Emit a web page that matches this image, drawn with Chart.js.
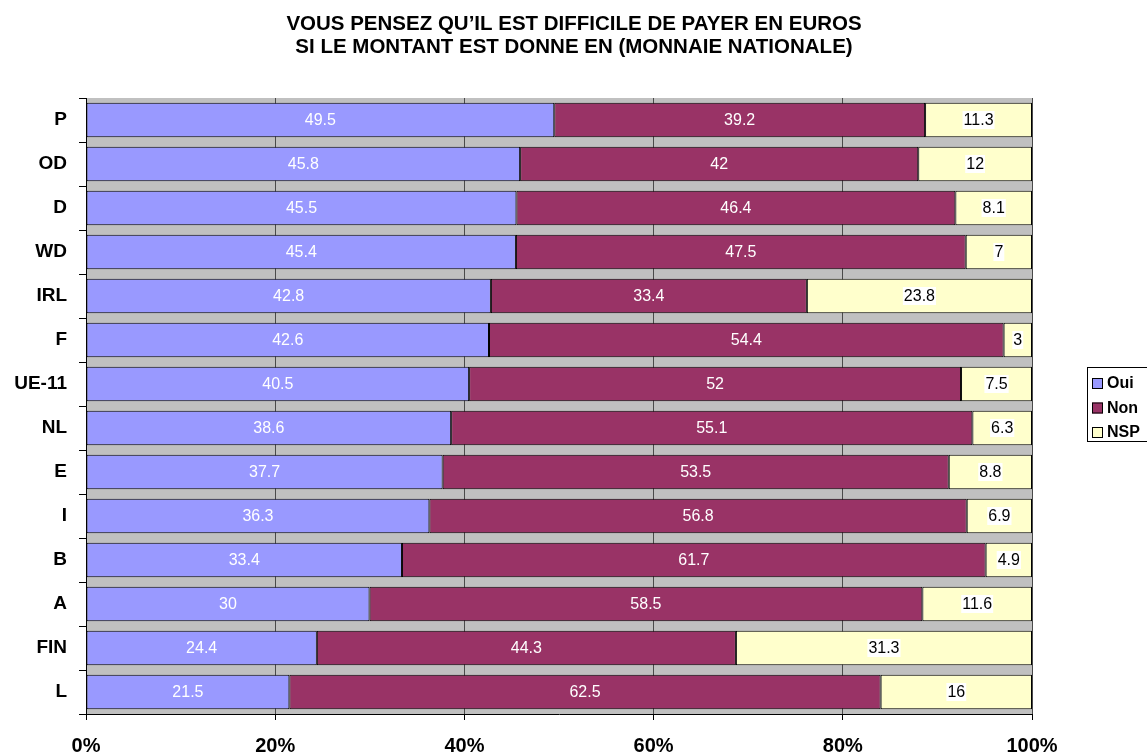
<!DOCTYPE html>
<html>
<head>
<meta charset="utf-8">
<script src="https://cdn.jsdelivr.net/npm/chart.js@4/dist/chart.umd.min.js"></script>
<style>
  html, body { margin: 0; padding: 0; background: #fff; }
  #wrap { width: 1147px; height: 756px; }
</style>
</head>
<body>
<div id="wrap"><canvas id="chart" width="1147" height="756"></canvas></div>
<script>
// --- Data ---
const categories = ['P', 'OD', 'D', 'WD', 'IRL', 'F', 'UE-11', 'NL', 'E', 'I', 'B', 'A', 'FIN', 'L'];
const oui = [49.5, 45.8, 45.5, 45.4, 42.8, 42.6, 40.5, 38.6, 37.7, 36.3, 33.4, 30, 24.4, 21.5];
const non = [39.2, 42, 46.4, 47.5, 33.4, 54.4, 52, 55.1, 53.5, 56.8, 61.7, 58.5, 44.3, 62.5];
const nsp = [11.3, 12, 8.1, 7, 23.8, 3, 7.5, 6.3, 8.8, 6.9, 4.9, 11.6, 31.3, 16];
const seriesNames = ['Oui', 'Non', 'NSP'];
const xTicks = [0, 20, 40, 60, 80, 100];
const titleLines = [
  'VOUS PENSEZ QU\u2019IL EST DIFFICILE DE PAYER EN EUROS',
  'SI LE MONTANT EST DONNE EN (MONNAIE NATIONALE)'
];

const FONT = "'Liberation Sans', Arial, sans-serif";
const COLORS = ['#9999FF', '#993366', '#FFFFCC'];
const LABEL_COLORS = ['#fff', '#fff', '#000'];

// 100% stacked: share of each row total (raw values kept for labels)
const raw = [oui, non, nsp];
const totals = categories.map((_, i) => oui[i] + non[i] + nsp[i]);
const share = raw.map(s => s.map((v, i) => v / totals[i] * 100));

// gray plot area like the Excel original
const plotBg = {
  id: 'plotBg',
  beforeDraw(chart) {
    const { ctx, chartArea: a } = chart;
    ctx.save();
    ctx.fillStyle = '#C0C0C0';
    ctx.fillRect(a.left, a.top, a.right - a.left, a.bottom - a.top);
    ctx.restore();
  }
};

// title centred on the whole page (the built-in one would follow the right padding)
const pageTitle = {
  id: 'pageTitle',
  afterDraw(chart) {
    const ctx = chart.ctx;
    ctx.save();
    ctx.font = 'bold 20.5px ' + FONT;
    ctx.fillStyle = '#000';
    ctx.textAlign = 'center';
    ctx.textBaseline = 'alphabetic';
    titleLines.forEach((line, i) => ctx.fillText(line, 574, 30 + i * 23));
    ctx.restore();
  }
};

// value labels in the middle of every segment
const segLabels = {
  id: 'segLabels',
  afterDatasetsDraw(chart) {
    const ctx = chart.ctx;
    ctx.save();
    ctx.font = '16px ' + FONT;
    ctx.textAlign = 'center';
    ctx.textBaseline = 'middle';
    chart.data.datasets.forEach((ds, di) => {
      chart.getDatasetMeta(di).data.forEach((el, i) => {
        const { x, y, base } = el.getProps(['x', 'y', 'base'], true);
        const cx = (x + base) / 2;
        const txt = String(raw[di][i]);
        if (di === 2) {
          const w = ctx.measureText(txt).width;
          ctx.fillStyle = '#fff';
          ctx.fillRect(cx - w / 2 - 1, y - 9, w + 2, 18);
        }
        ctx.fillStyle = LABEL_COLORS[di];
        ctx.fillText(txt, cx, y + 1);
      });
    });
    ctx.restore();
  }
};

// boxed legend on the right, cut by the canvas edge like the original
const boxLegend = {
  id: 'boxLegend',
  afterDraw(chart) {
    const ctx = chart.ctx;
    const x0 = 1087, y0 = 367;
    ctx.save();
    ctx.fillStyle = '#fff';
    ctx.fillRect(x0, y0, 80, 74);
    ctx.strokeStyle = '#000';
    ctx.lineWidth = 1;
    ctx.strokeRect(x0 + 0.5, y0 + 0.5, 80, 74);
    ctx.font = 'bold 16px ' + FONT;
    ctx.textBaseline = 'middle';
    chart.data.datasets.forEach((ds, i) => {
      const cy = y0 + 16 + i * 24.5;
      ctx.fillStyle = ds.backgroundColor;
      ctx.fillRect(x0 + 5, cy - 5, 11, 11);
      ctx.strokeRect(x0 + 5.5, cy - 4.5, 10, 10);
      ctx.fillStyle = '#000';
      ctx.fillText(ds.label, x0 + 20, cy + 1);
    });
    ctx.restore();
  }
};

new Chart(document.getElementById('chart'), {
  type: 'bar',
  data: {
    labels: categories,
    datasets: seriesNames.map((name, i) => ({
      label: name,
      data: share[i],
      backgroundColor: COLORS[i],
      borderColor: '#000',
      borderWidth: 1,
      borderSkipped: false,
      barPercentage: 0.78,
      categoryPercentage: 1.0,
    })),
  },
  options: {
    indexAxis: 'y',
    responsive: false,
    animation: false,
    layout: { padding: { left: 0, right: 115, top: 98, bottom: 0 } },
    plugins: {
      legend: { display: false },
      tooltip: { enabled: false },
      title: { display: false },
    },
    scales: {
      x: {
        stacked: true,
        min: 0,
        max: 100,
        afterBuildTicks: s => { s.ticks = xTicks.map(v => ({ value: v })); },
        afterFit: s => { s.height = 42; },
        ticks: {
          callback: v => v + '%',
          color: '#000',
          padding: 14,
          maxRotation: 0,
          font: { family: FONT, size: 20, weight: 'bold' },
        },
        grid: { color: '#4a4a4a', lineWidth: 1, tickColor: '#000', tickLength: 6 },
        border: { color: '#000', width: 1 },
      },
      y: {
        stacked: true,
        afterFit: s => { s.width = 86; },
        ticks: {
          color: '#000',
          padding: 12,
          font: { family: FONT, size: 19, weight: 'bold' },
        },
        grid: { drawOnChartArea: false, offset: true, tickColor: '#000', tickLength: 7 },
        border: { color: '#000', width: 1 },
      },
    },
  },
  plugins: [plotBg, segLabels, boxLegend, pageTitle],
});
</script>
</body>
</html>
